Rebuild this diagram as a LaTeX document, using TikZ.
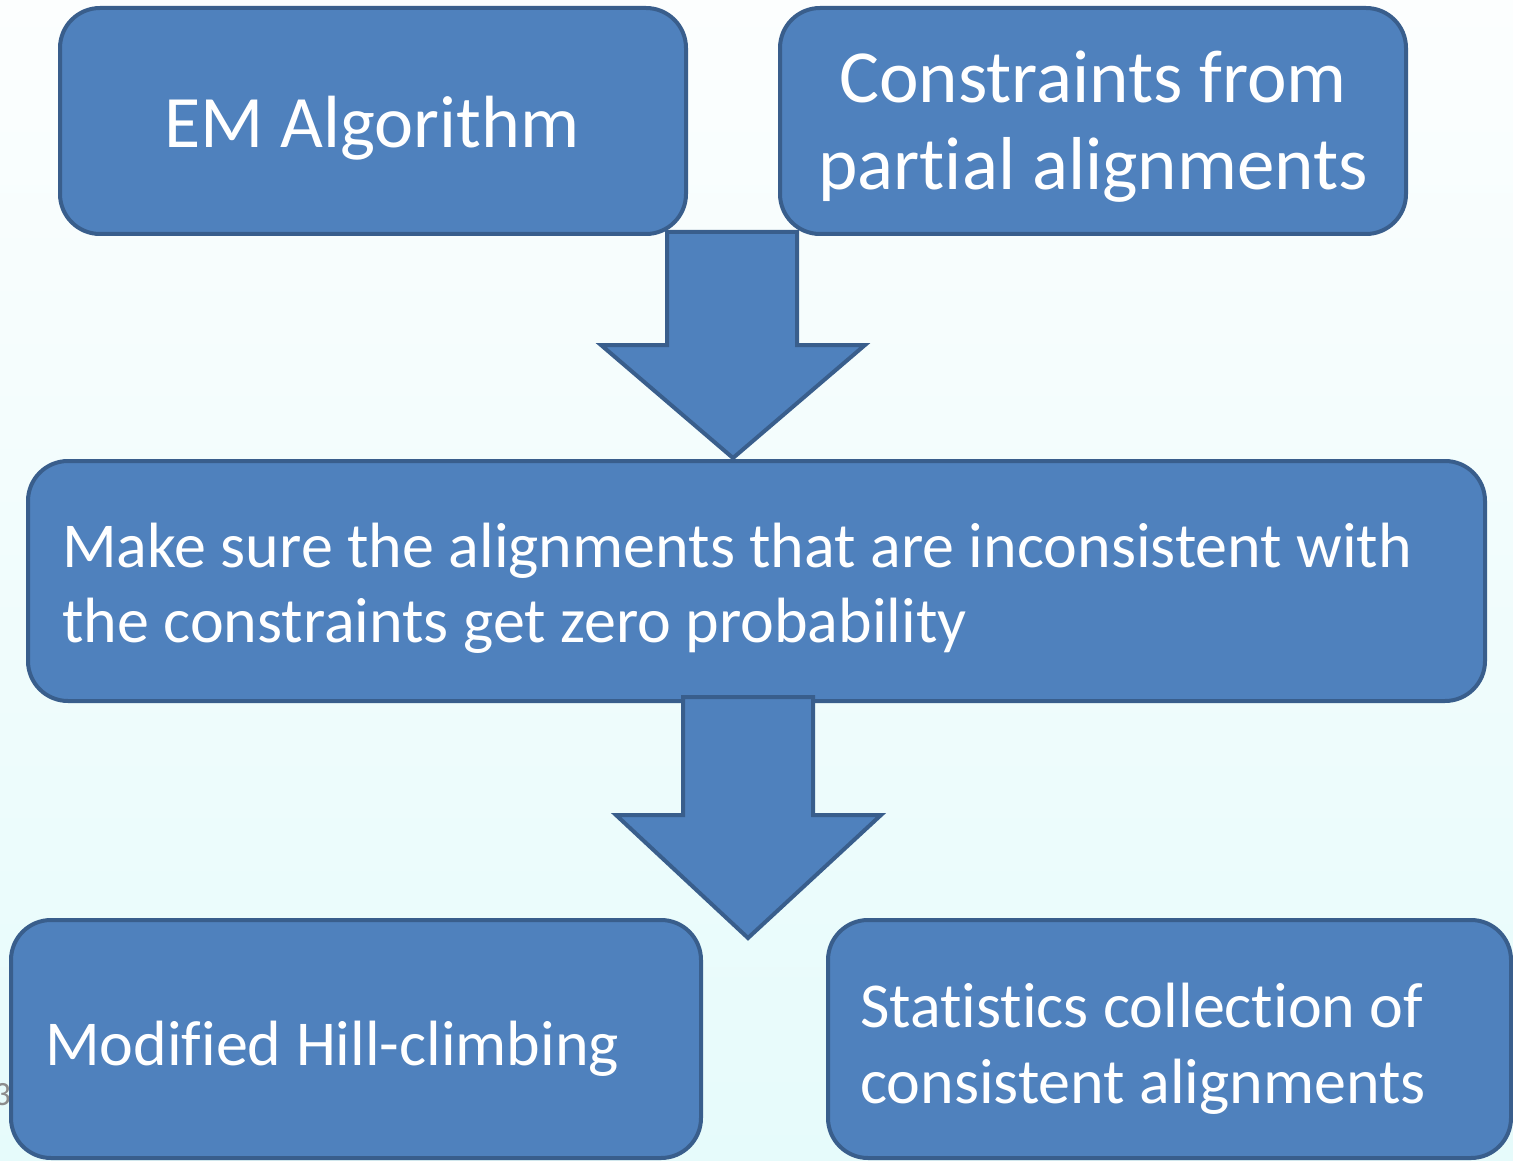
\documentclass[tikz,border=0pt]{standalone}
\usepackage{fontspec}
\setmainfont{Carlito}[Ligatures=NoCommon]
\definecolor{boxfill}{HTML}{4F81BD}
\definecolor{boxline}{HTML}{395E8C}
\definecolor{bgtop}{HTML}{FCFEFE}
\definecolor{bgbot}{HTML}{E6FBFB}
\definecolor{pgnum}{HTML}{8C8C8C}
\tikzset{
  box/.style={draw=boxline, fill=boxfill, line width=4pt, rounded corners=40pt, inner sep=0pt},
  blockarrow/.style={draw=boxline, fill=boxfill, line width=4pt, line join=miter},
  lbl/.style={text=white, inner sep=0pt},
}
\begin{document}
\begin{tikzpicture}[x=1pt,y=-1pt]
\useasboundingbox (0,0) rectangle (1513,1161);
\shade[top color=bgtop, bottom color=bgbot] (0,0) rectangle (1513,1161);
\clip (0,0) rectangle (1513,1161);
% page number
\node[text=pgnum, inner sep=0pt, anchor=base east, font=\fontsize{34}{40}\selectfont] (pg) at (11,1105) {3};
% top boxes
\node[box, minimum width=626pt, minimum height=226pt] (em) at (373,121) {};
\node[lbl, anchor=base, font=\fontsize{74}{87}\selectfont] (emtxt) at (372,148) {EM Algorithm};
\node[box, minimum width=626pt, minimum height=226pt] (cons) at (1093,121) {};
\node[lbl, anchor=base, align=center, font=\fontsize{75}{87}\selectfont] (constxt) at (1093,190) {Constraints from\\partial alignments};
% arrow 1
\draw[blockarrow] (667,232) -- (797,232) -- (797,345) -- (865,345) -- (733,458) -- (601,345) -- (667,345) -- cycle;
% middle box
\node[box, minimum width=1457pt, minimum height=240pt] (mid) at (756.5,581) {};
\node[lbl, anchor=base west, align=left, font=\fontsize{64}{75}\selectfont] (midtxt) at (62,642) {Make sure the alignments that are inconsistent with\\the constraints get zero probability};
% arrow 2
\draw[blockarrow] (683,697) -- (813,697) -- (813,815) -- (881,815) -- (748,938) -- (616,815) -- (683,815) -- cycle;
% bottom boxes
\node[box, minimum width=690pt, minimum height=238pt] (hill) at (356,1039) {};
\node[lbl, anchor=base west, font=\fontsize{64}{76}\selectfont] (hilltxt) at (45,1065) {Modified Hill-climbing};
\node[box, minimum width=683pt, minimum height=238pt] (stat) at (1169.5,1039) {};
\node[lbl, anchor=base west, align=left, font=\fontsize{64}{76}\selectfont] (stattxt) at (860,1103) {Statistics collection of\\consistent alignments};
\end{tikzpicture}
\end{document}
